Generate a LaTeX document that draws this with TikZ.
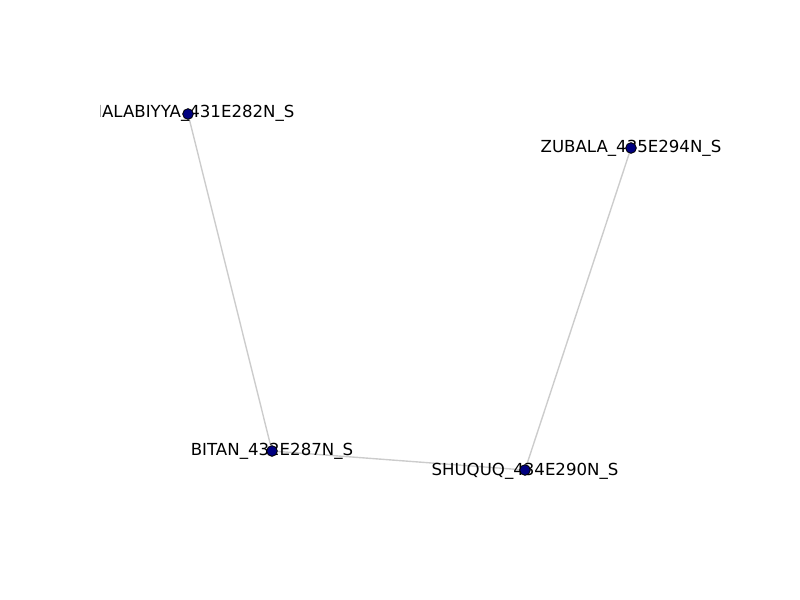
\documentclass[tikz,border=0pt]{standalone}
\usepackage{fontspec}
\setmainfont{DejaVu Sans}
\usetikzlibrary{backgrounds}
\definecolor{navy}{RGB}{0,0,128}
\definecolor{edgegray}{RGB}{204,204,204}

\begin{document}
\begin{tikzpicture}[x=0.0254cm,y=-0.0254cm,
  dot/.style={circle,draw=black,fill=navy,line width=0.6bp,inner sep=0pt,minimum size=2.7mm},
  lab/.style={inner sep=0pt,font=\fontsize{12}{14}\selectfont}]
\useasboundingbox (0,0) rectangle (800,600);
 \begin{scope}
\clip (100,60) rectangle (721,540);
\node[lab] (lhal) at (192,113) {HALABIYYA\_431E282N\_S};
\node[lab] (lzub) at (631,148) {ZUBALA\_435E294N\_S};
\node[lab] (lbit) at (272,451) {BITAN\_432E287N\_S};
\node[lab] (lshu) at (525,471) {SHUQUQ\_434E290N\_S};
\end{scope}
\node[dot] (hal) at (188,114) {};
\node[dot] (zub) at (631,148) {};
\node[dot] (bit) at (272,451) {};
\node[dot] (shu) at (525,470) {};
\begin{pgfonlayer}{background}
\draw[edgegray, line width=1bp] (hal.center)--(bit.center);
\draw[edgegray, line width=1bp] (bit.center)--(shu.center);
\draw[edgegray, line width=1bp] (shu.center)--(zub.center);
\end{pgfonlayer}
\end{tikzpicture}
\end{document}
